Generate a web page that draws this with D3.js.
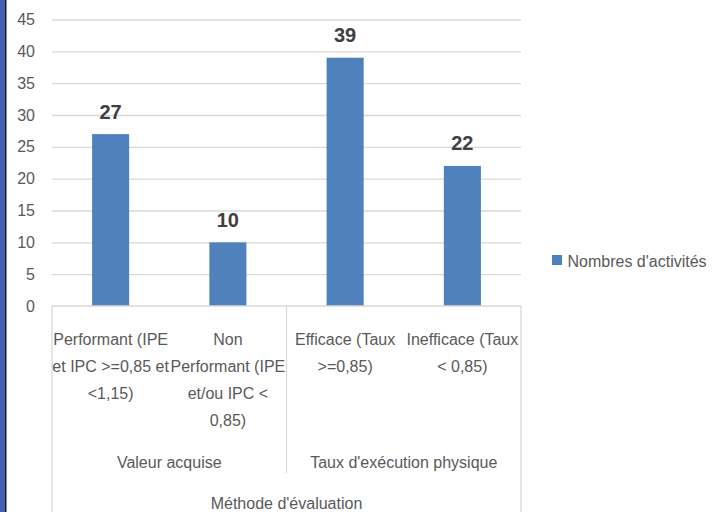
<!DOCTYPE html>
<html>
<head>
<meta charset="utf-8">
<script src="https://cdn.jsdelivr.net/npm/d3@7"></script>
<style>
  html, body { margin: 0; padding: 0; background: #fff; }
  svg { display: block; font-family: "Liberation Sans", Arial, sans-serif; }
</style>
</head>
<body>
<svg id="chart" width="714" height="512"></svg>
<script>
// Chart data
const categories = [
    ["Performant (IPE", "et IPC >=0,85 et", "<1,15)"],
    ["Non", "Performant (IPE", "et/ou IPC <", "0,85)"],
    ["Efficace (Taux", ">=0,85)"],
    ["Inefficace (Taux", "< 0,85)"]
];
const groups = ["Valeur acquise", "Taux d'exécution physique"];
const groupSizes = [2, 2];
const values = [27, 10, 39, 22];
const yTicks = [0, 5, 10, 15, 20, 25, 30, 35, 40, 45];
const seriesName = "Nombres d'activités";
const axisTitle = "Méthode d'évaluation";

(function() {
    const svg = d3.select('#chart');

    // left border strip
    svg.append('rect').attr('x', 0).attr('y', 0).attr('width', 5).attr('height', 512).attr('fill', '#4162ad');
    svg.append('rect').attr('x', 5).attr('y', 0).attr('width', 1.5).attr('height', 512).attr('fill', '#1a1a2a');

    const plotLeft = 52, plotRight = 521, plotTop = 19.5, plotBottom = 306;

    const xScale = d3.scaleBand()
        .domain(d3.range(categories.length))
        .range([plotLeft, plotRight])
        .paddingInner(0.684)
        .paddingOuter(0.342);

    const yScale = d3.scaleLinear()
        .domain([0, 45])
        .range([plotBottom, plotTop]);

    // gridlines
    svg.append('g')
        .attr('transform', `translate(${plotLeft},0)`)
        .call(d3.axisRight(yScale).tickValues(yTicks.slice(1)).tickSize(plotRight - plotLeft).tickFormat(''))
        .call(g => g.select('.domain').remove())
        .selectAll('line')
        .attr('stroke', '#d9d9d9')
        .attr('stroke-width', 1.3);

    // y tick labels
    svg.append('g')
        .attr('transform', `translate(${plotLeft},0)`)
        .call(d3.axisLeft(yScale).tickValues(yTicks).tickSize(0).tickPadding(17))
        .call(g => g.select('.domain').remove())
        .selectAll('text')
        .attr('font-family', '"Liberation Sans", Arial, sans-serif')
        .attr('font-size', '16px')
        .attr('fill', '#595959');

    // bars
    svg.selectAll('.bar')
        .data(values)
        .enter()
        .append('rect')
        .attr('class', 'bar')
        .attr('x', (d, i) => xScale(i))
        .attr('width', xScale.bandwidth())
        .attr('y', d => yScale(d))
        .attr('height', d => plotBottom - yScale(d))
        .attr('fill', '#4f81bd');

    // value labels
    svg.selectAll('.value-label')
        .data(values)
        .enter()
        .append('text')
        .attr('class', 'value-label')
        .attr('x', (d, i) => xScale(i) + xScale.bandwidth() / 2)
        .attr('y', d => yScale(d) - 15.5)
        .attr('text-anchor', 'middle')
        .style('font-size', '20px')
        .style('font-weight', 'bold')
        .attr('fill', '#404040')
        .text(d => d);

    // category axis line
    const axisColor = '#d9d9d9';
    svg.append('line')
        .attr('x1', plotLeft).attr('x2', plotRight)
        .attr('y1', plotBottom).attr('y2', plotBottom)
        .attr('stroke', axisColor).attr('stroke-width', 1.3);

    // outer separators
    svg.append('line').attr('x1', plotLeft).attr('x2', plotLeft).attr('y1', plotBottom).attr('y2', 512)
        .attr('stroke', axisColor).attr('stroke-width', 1.3);
    svg.append('line').attr('x1', plotRight).attr('x2', plotRight).attr('y1', plotBottom).attr('y2', 512)
        .attr('stroke', axisColor).attr('stroke-width', 1.3);

    // leaf category labels
    const step = xScale.step();
    const catLabels = svg.append('g')
        .style('font-size', '16px')
        .attr('fill', '#595959');

    categories.forEach((lines, i) => {
        const cx = xScale(i) + xScale.bandwidth() / 2;
        const t = catLabels.append('text').attr('text-anchor', 'middle');
        lines.forEach((line, j) => {
            t.append('tspan').attr('x', cx).attr('y', 345 + j * 27).text(line);
        });
    });

    // group labels and separators
    let start = 0;
    groups.forEach((name, gi) => {
        const x0 = plotLeft + start * step;
        const x1 = plotLeft + (start + groupSizes[gi]) * step;
        svg.append('text')
            .attr('x', (x0 + x1) / 2)
            .attr('y', 468)
            .attr('text-anchor', 'middle')
            .style('font-size', '16px')
            .attr('fill', '#595959')
            .text(name);
        if (gi < groups.length - 1) {
            svg.append('line').attr('x1', x1).attr('x2', x1).attr('y1', plotBottom).attr('y2', 473)
                .attr('stroke', axisColor).attr('stroke-width', 1.3);
        }
        start += groupSizes[gi];
    });

    // axis title
    svg.append('text')
        .attr('x', (plotLeft + plotRight) / 2)
        .attr('y', 509)
        .attr('text-anchor', 'middle')
        .style('font-size', '16px')
        .attr('fill', '#595959')
        .text(axisTitle);

    // legend
    const legend = svg.append('g').attr('transform', 'translate(552,255)');
    legend.append('rect').attr('width', 10).attr('height', 10).attr('fill', '#4f81bd');
    legend.append('text')
        .attr('x', 15.5)
        .attr('y', 12)
        .style('font-size', '16px')
        .attr('fill', '#595959')
        .text(seriesName);
})();
</script>
</body>
</html>
